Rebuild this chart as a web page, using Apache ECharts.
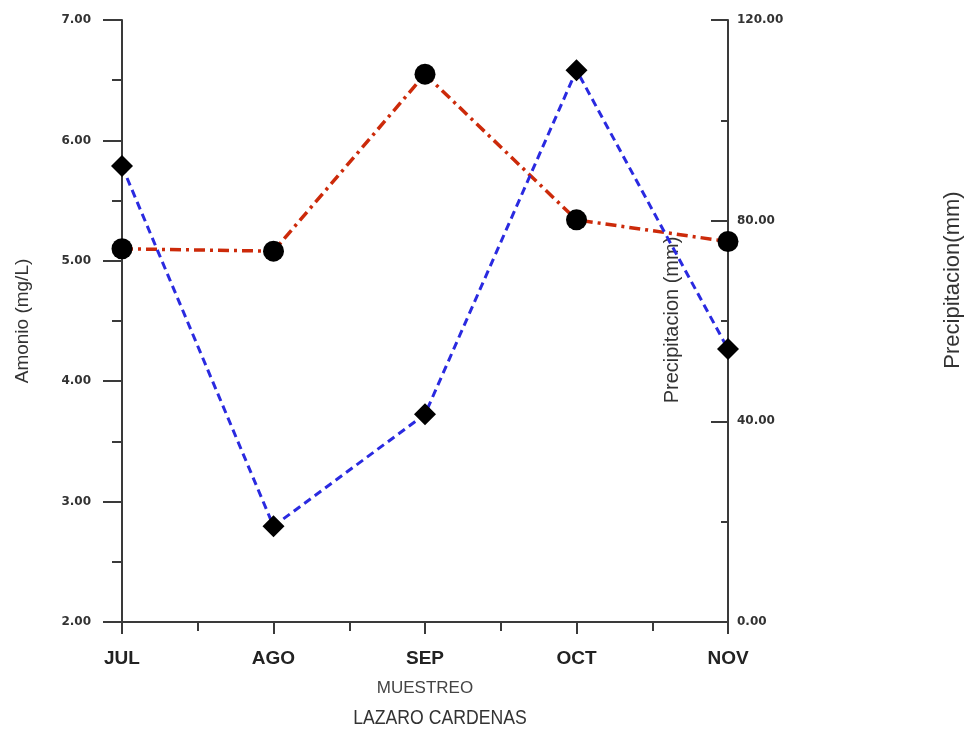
<!DOCTYPE html>
<html>
<head>
<meta charset="utf-8">
<script src="https://cdn.jsdelivr.net/npm/echarts@6/dist/echarts.min.js"></script>
<style>
html,body{margin:0;padding:0;background:#fff;}
#chart{width:969px;height:732px;}
</style>
</head>
<body>
<div id="chart"></div>
<script>
const months = ['JUL', 'AGO', 'SEP', 'OCT', 'NOV'];
const amonio = [5.10, 5.08, 6.55, 5.34, 5.16];        // mg/L, left axis
const precipitacion = [90.9, 19.1, 41.4, 110.0, 54.4]; // mm, right axis
const leftTicks = [2, 3, 4, 5, 6, 7];
const rightTicks = [0, 40, 80, 120];

const chart = echarts.init(document.getElementById('chart'));
const axisColor = '#3a3a3a';
const tickFont = { fontFamily: 'DejaVu Sans', fontWeight: 'bold', fontSize: 12, color: '#333' };

chart.setOption({
  animation: false,
  backgroundColor: '#fff',
  grid: { left: 122, right: 241, top: 20, bottom: 110, containLabel: false },
  xAxis: {
    type: 'value', min: 0, max: months.length - 1, interval: 1,
    name: 'MUESTREO', nameLocation: 'middle', nameGap: 58,
    nameTextStyle: { fontFamily: 'Liberation Sans', fontSize: 17, color: '#444' },
    axisLine: { show: true, lineStyle: { color: axisColor, width: 2 } },
    axisTick: { show: true, length: 12, lineStyle: { color: axisColor, width: 2 } },
    minorTick: { show: true, splitNumber: 2, length: 9, lineStyle: { color: axisColor, width: 2 } },
    splitLine: { show: false },
    axisLabel: { margin: 27, formatter: v => months[v] || '', fontFamily: 'Liberation Sans', fontWeight: 'bold', fontSize: 19, color: '#222' }
  },
  yAxis: [
    {
      type: 'value', position: 'left', min: leftTicks[0], max: leftTicks[leftTicks.length - 1], interval: 1,
      name: 'Amonio (mg/L)', nameLocation: 'middle', nameGap: 90, nameRotate: 90,
      nameTextStyle: { fontFamily: 'Liberation Sans', fontSize: 19, color: '#333' },
      axisLine: { show: true, lineStyle: { color: axisColor, width: 2 } },
      axisTick: { show: true, length: 19, lineStyle: { color: axisColor, width: 2 } },
      minorTick: { show: true, splitNumber: 2, length: 10, lineStyle: { color: axisColor, width: 2 } },
      splitLine: { show: false },
      axisLabel: Object.assign({ margin: 31, formatter: v => v.toFixed(2) }, tickFont)
    },
    {
      type: 'value', position: 'right', min: rightTicks[0], max: rightTicks[rightTicks.length - 1], interval: 40,
      axisLine: { show: true, lineStyle: { color: axisColor, width: 2 } },
      axisTick: { show: true, inside: true, length: 17, lineStyle: { color: axisColor, width: 2 } },
      minorTick: { show: true, splitNumber: 2, length: 7, lineStyle: { color: axisColor, width: 2 } },
      splitLine: { show: false },
      axisLabel: Object.assign({ margin: 9, formatter: v => v.toFixed(2) }, tickFont)
    }
  ],
  series: [
    {
      name: 'Amonio', type: 'line', yAxisIndex: 0,
      data: amonio.map((v, i) => [i, v]),
      symbol: 'circle', symbolSize: 21,
      itemStyle: { color: '#000' },
      lineStyle: { color: '#cc2a0a', width: 3.5, type: [11, 5, 3, 5] },
      z: 3
    },
    {
      name: 'Precipitacion', type: 'line', yAxisIndex: 1,
      data: precipitacion.map((v, i) => [i, v]),
      symbol: 'diamond', symbolSize: 22,
      itemStyle: { color: '#000' },
      lineStyle: { color: '#2a2ae0', width: 3, type: [8, 5] },
      z: 4
    }
  ],
  graphic: [
    {
      type: 'text', x: 672, y: 320, rotation: Math.PI / 2, z: 1,
      style: { text: 'Precipitacion (mm)', font: '20px "Liberation Sans"', fill: '#333',
               align: 'center', verticalAlign: 'middle', textAlign: 'center', textVerticalAlign: 'middle' }
    },
    {
      type: 'text', x: 953, y: 280, rotation: Math.PI / 2,
      style: { text: 'Precipitacion(mm)', font: '22px "Liberation Sans"', fill: '#333',
               align: 'center', verticalAlign: 'middle', textAlign: 'center', textVerticalAlign: 'middle' }
    },
    {
      type: 'text', x: 440, y: 718, scaleX: 0.84,
      style: { text: 'LAZARO CARDENAS', font: '21px "Liberation Sans"', fill: '#333',
               align: 'center', verticalAlign: 'middle', textAlign: 'center', textVerticalAlign: 'middle' }
    }
  ]
});
</script>
</body>
</html>
